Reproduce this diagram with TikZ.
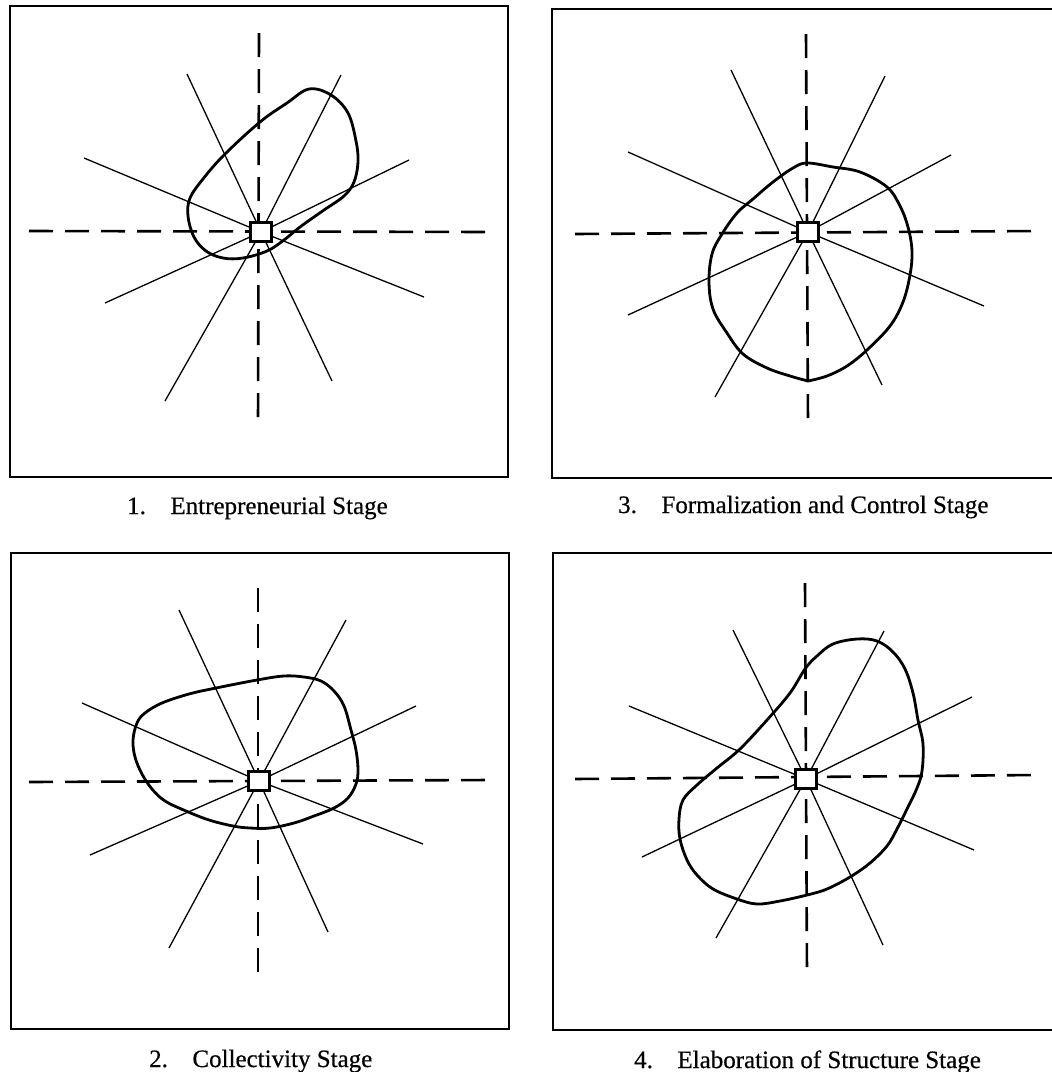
\documentclass[tikz,border=0pt]{standalone}
\usepackage{fontspec}
\setmainfont{Liberation Serif}[FakeBold=0.5]
\begin{document}
\begin{tikzpicture}[x=1pt,y=-1pt,
  panelframe/.style={line width=2.2pt, line join=miter},
  axisline/.style={line width=2.6pt, dash pattern=on 24pt off 12pt},
  spokeline/.style={line width=1.3pt},
  hubbox/.style={draw, fill=white, line width=2.2pt, minimum width=21pt, minimum height=19pt, inner sep=0pt},
  blobline/.style={line width=2.8pt, line join=round},
  captext/.style={anchor=base west, inner sep=0pt, font=\fontsize{25}{30}\selectfont}]
\useasboundingbox (0,0) rectangle (1052,1072);

% ---------------- Panel 1 ----------------
\draw[panelframe] (10,6) rectangle (508,477);
\coordinate (a-n) at (259,33); \coordinate (a-s) at (258,428);
\coordinate (a-w) at (29,231); \coordinate (a-e) at (491,232);
\draw[axisline] (a-w) -- (a-e);
\draw[axisline] (a-n) -- (a-s);
\node[hubbox] (a-hub) at (261,232) {};
\coordinate (a-1) at (187,74);  \coordinate (a-2) at (341,75);
\coordinate (a-3) at (84,158);  \coordinate (a-4) at (409,160);
\coordinate (a-5) at (105,303); \coordinate (a-6) at (424,297);
\coordinate (a-7) at (165,401); \coordinate (a-8) at (332,381);
\foreach \i in {1,...,8} \draw[spokeline] (a-hub) -- (a-\i);
\draw[blobline] plot[smooth cycle, tension=0.6] coordinates {(309,89) (331,95) (348,113) (356,141) (358,162) (354,182) (344,196) (324,210) (300,227) (284,240) (267,251) (243,258) (223,258) (206,251) (194,237) (188,216) (190,198) (203,179) (224,155) (260,122) (287,103)};
\node[captext] (cap1) at (127,514) {1.\hspace{24.5pt}Entrepreneurial Stage};

% ---------------- Panel 3 ----------------
\draw[panelframe] (1053,9) -- (552,9) -- (552,478) -- (1053,478);
\coordinate (c-n) at (806,34); \coordinate (c-s) at (808,423);
\coordinate (c-w) at (575,234); \coordinate (c-e) at (1038,231);
\draw[axisline] (c-w) -- (c-e);
\draw[axisline] (c-n) -- (c-s);
\node[hubbox] (c-hub) at (808,232) {};
\coordinate (c-1) at (731,70);  \coordinate (c-2) at (885,76);
\coordinate (c-3) at (628,152); \coordinate (c-4) at (951,155);
\coordinate (c-5) at (628,315); \coordinate (c-6) at (984,306);
\coordinate (c-7) at (715,397); \coordinate (c-8) at (882,385);
\foreach \i in {1,...,8} \draw[spokeline] (c-hub) -- (c-\i);
\draw[blobline] plot[smooth, tension=0.6] coordinates {(808,381) (790,376) (767,368) (743,354) (727,333) (713,309) (709,282) (712,254) (722,234) (737,213) (753,199) (773,182) (793,168) (807,163) (833,167) (860,172) (887,187) (900,206) (908,227) (912,251) (910,275) (903,302) (890,326) (867,350) (847,366) (827,376) (808,381)};
\node[captext] (cap3) at (618,513) {3.\hspace{24.5pt}Formalization and Control Stage};

% ---------------- Panel 2 ----------------
\draw[panelframe] (11,553) rectangle (509,1029);
\coordinate (b-n) at (258,588); \coordinate (b-s) at (258,977);
\coordinate (b-w) at (29,782); \coordinate (b-e) at (490,780);
\draw[axisline] (b-w) -- (b-e);
\draw[axisline] (b-n) -- (b-s);
\node[hubbox] (b-hub) at (259,781) {};
\coordinate (b-1) at (179,610); \coordinate (b-2) at (346,620);
\coordinate (b-3) at (82,703);  \coordinate (b-4) at (416,706);
\coordinate (b-5) at (90,855);  \coordinate (b-6) at (423,844);
\coordinate (b-7) at (169,948); \coordinate (b-8) at (328,932);
\foreach \i in {1,...,8} \draw[spokeline] (b-hub) -- (b-\i);
\draw[blobline] plot[smooth cycle, tension=0.6] coordinates {(216,688) (257,680) (284,676) (304,677) (321,681) (334,691) (344,706) (351,730) (356,750) (358,770) (356,784) (348,798) (334,808) (314,816) (294,823) (270,828) (250,828) (233,826) (209,820) (186,811) (165,801) (152,789) (142,774) (135,757) (133,740) (137,723) (145,713) (162,703) (189,694)};
\node[captext] (cap2) at (149,1067) {2.\hspace{24.5pt}Collectivity Stage};

% ---------------- Panel 4 ----------------
\draw[panelframe] (1053,553) -- (553,553) -- (553,1030) -- (1053,1030);
\coordinate (d-n) at (805,583); \coordinate (d-s) at (807,973);
\coordinate (d-w) at (575,779); \coordinate (d-e) at (1037,775);
\draw[axisline] (d-w) -- (d-e);
\draw[axisline] (d-n) -- (d-s);
\node[hubbox] (d-hub) at (806,779) {};
\coordinate (d-1) at (733,630); \coordinate (d-2) at (884,631);
\coordinate (d-3) at (629,706); \coordinate (d-4) at (972,697);
\coordinate (d-5) at (642,857); \coordinate (d-6) at (974,850);
\coordinate (d-7) at (716,938); \coordinate (d-8) at (883,945);
\foreach \i in {1,...,8} \draw[spokeline] (d-hub) -- (d-\i);
\draw[blobline] plot[smooth cycle, tension=0.6] coordinates {(857,639) (877,641) (893,652) (905,669) (913,693) (918,720) (923,744) (922,771) (917,788) (907,809) (897,829) (887,846) (870,863) (850,877) (827,889) (807,895) (780,901) (757,904) (737,899) (713,889) (697,875) (687,860) (680,839) (679,819) (683,800) (697,785) (717,768) (740,749) (767,720) (790,693) (805,669) (817,656) (833,644)};
\node[captext] (cap4) at (634,1068) {4.\hspace{24.5pt}Elaboration of Structure Stage};
\end{tikzpicture}
\end{document}
